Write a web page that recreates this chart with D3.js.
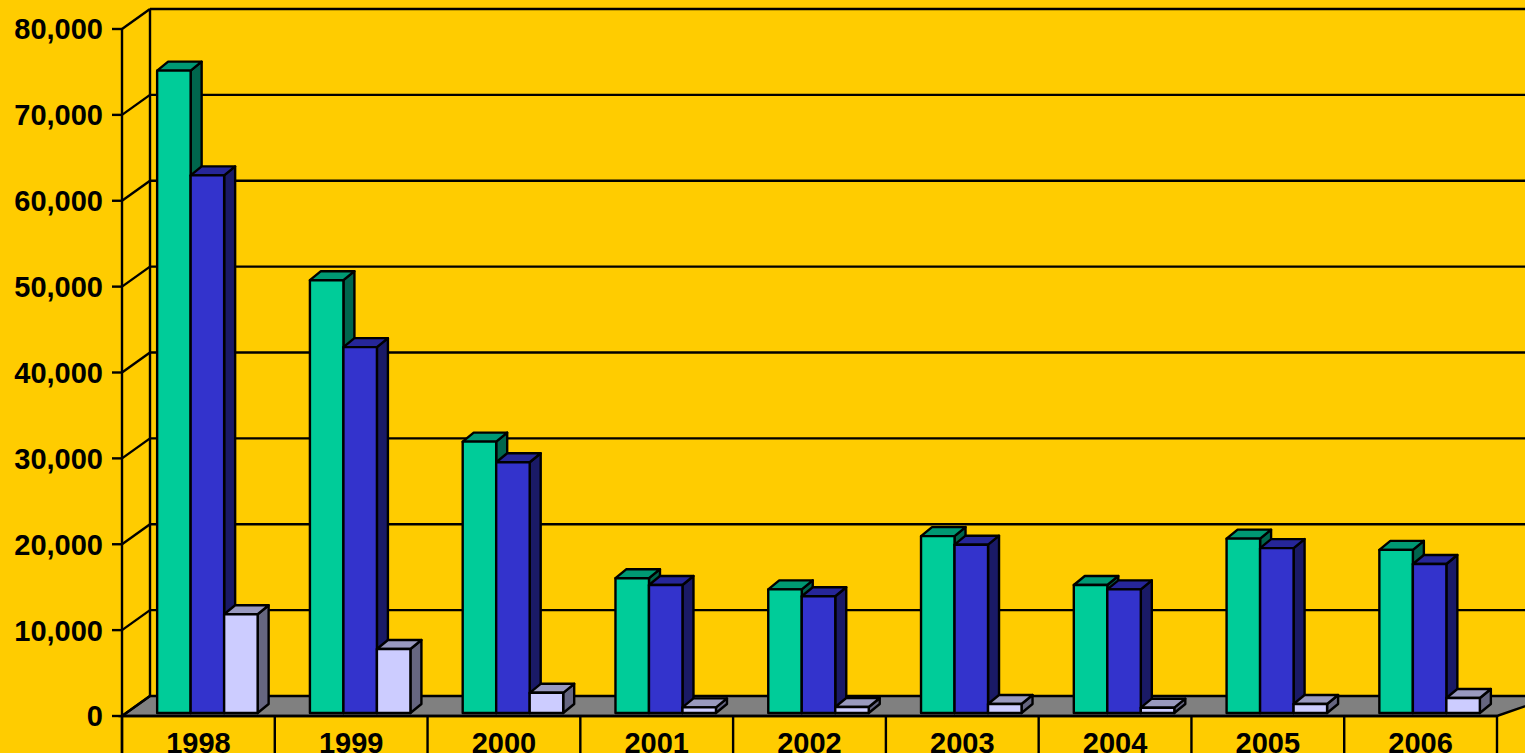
<!DOCTYPE html>
<html>
<head>
<meta charset="utf-8">
<script src="https://cdn.jsdelivr.net/npm/d3@7"></script>
<style>
  html, body { margin: 0; padding: 0; background: #FFCC00; overflow: hidden; }
  svg { display: block; }
  text { font-family: "Liberation Sans", Arial, sans-serif; font-weight: bold; fill: #000; }
</style>
</head>
<body>
<svg width="1525" height="753"></svg>
<script>
(function (d3) {
  'use strict';

  // data
  const years = ['1998', '1999', '2000', '2001', '2002', '2003', '2004', '2005', '2006'];
  const seriesNames = ['A', 'B', 'C'];
  const seriesA = [74800, 50400, 31600, 15700, 14400, 20600, 14900, 20300, 19000];
  const seriesB = [62600, 42600, 29200, 14900, 13600, 19600, 14400, 19200, 17350];
  const seriesC = [11500, 7450, 2350, 650, 700, 1050, 620, 1050, 1750];
  const yTicks = [0, 10000, 20000, 30000, 40000, 50000, 60000, 70000, 80000];

  const colors = [
    {front: '#00CC99', top: '#009973', side: '#00664D'},
    {front: '#3333CC', top: '#262699', side: '#1A1A66'},
    {front: '#CCCCFF', top: '#9999BF', side: '#666680'}
  ];

  const svg = d3.select('svg');
  const W = 1525;
  const sw = 2.4;

  const left = 122, right = 1497;
  const depth = {x: 28, y: -20};       // wall / floor depth
  const barShift = {x: 9, y: -3};      // bar front face offset
  const barDepth = {x: 11, y: -9};     // bar side depth
  const barW = 33.5;

  const y = d3.scaleLinear().domain([0, 80000]).range([716, 29]);
  const x0 = d3.scaleBand().domain(years).range([left, right]);
  const x1 = d3.scaleBand().domain(seriesNames).range([0, barW * 3]);

  const pts = a => a.map(p => p.join(',')).join(' ');

  // floor
  svg.append('polygon')
    .attr('points', pts([[left, y(0)], [left + depth.x, y(0) + depth.y],
                         [W + 30, y(0) + depth.y], [right, y(0)]]))
    .attr('fill', '#808080')
    .attr('stroke', '#000').attr('stroke-width', sw);

  // back wall gridlines
  const grid = svg.append('g');
  yTicks.filter(t => t > 0).forEach(t => {
    grid.append('line')
      .attr('x1', left + depth.x).attr('x2', W)
      .attr('y1', y(t) + depth.y).attr('y2', y(t) + depth.y)
      .attr('stroke', '#000').attr('stroke-width', sw);
  });
  // side wall lines
  yTicks.forEach(t => {
    grid.append('line')
      .attr('x1', left).attr('y1', y(t))
      .attr('x2', left + depth.x).attr('y2', y(t) + depth.y)
      .attr('stroke', '#000').attr('stroke-width', sw);
  });
  grid.append('line')
    .attr('x1', left + depth.x).attr('x2', left + depth.x)
    .attr('y1', y(80000) + depth.y).attr('y2', y(0) + depth.y)
    .attr('stroke', '#000').attr('stroke-width', sw);

  // bars
  const all = [seriesA, seriesB, seriesC];
  const bars = svg.append('g');
  years.forEach((yr, i) => {
    const bx = x0(yr) + (x0.bandwidth() - barW * 3) / 2 + barShift.x;
    seriesNames.forEach((s, j) => {
      const v = all[j][i];
      const xl = bx + x1(s), xr = xl + x1.bandwidth();
      const yt = y(v) + barShift.y, yb = y(0) + barShift.y;
      const c = colors[j];
      const g = bars.append('g').attr('stroke', '#000').attr('stroke-width', sw)
        .attr('stroke-linejoin', 'round');
      g.append('polygon')
        .attr('points', pts([[xr, yt], [xr + barDepth.x, yt + barDepth.y],
                             [xr + barDepth.x, yb + barDepth.y], [xr, yb]]))
        .attr('fill', c.side);
      g.append('polygon')
        .attr('points', pts([[xl, yt], [xl + barDepth.x, yt + barDepth.y],
                             [xr + barDepth.x, yt + barDepth.y], [xr, yt]]))
        .attr('fill', c.top);
      g.append('rect')
        .attr('x', xl).attr('y', yt)
        .attr('width', xr - xl).attr('height', yb - yt)
        .attr('fill', c.front);
    });
  });

  // value axis
  const ax = svg.append('g');
  ax.append('line')
    .attr('x1', left).attr('x2', left)
    .attr('y1', y(80000)).attr('y2', 760)
    .attr('stroke', '#000').attr('stroke-width', sw);
  yTicks.forEach(t => {
    ax.append('line')
      .attr('x1', left - 10).attr('x2', left)
      .attr('y1', y(t)).attr('y2', y(t))
      .attr('stroke', '#000').attr('stroke-width', sw);
    ax.append('text')
      .attr('x', 103).attr('y', y(t))
      .attr('dy', '0.36em')
      .attr('text-anchor', 'end')
      .style('font-size', '29px')
      .text(d3.format(',')(t));
  });

  // category axis
  const cx = svg.append('g');
  cx.append('line')
    .attr('x1', left).attr('x2', right)
    .attr('y1', y(0)).attr('y2', y(0))
    .attr('stroke', '#000').attr('stroke-width', sw);
  years.concat(['end']).forEach((yr, i) => {
    const xx = i < years.length ? x0(yr) : right;
    cx.append('line')
      .attr('x1', xx).attr('x2', xx)
      .attr('y1', y(0)).attr('y2', 760)
      .attr('stroke', '#000').attr('stroke-width', sw);
  });
  years.forEach(yr => {
    cx.append('text')
      .attr('x', x0(yr) + x0.bandwidth() / 2)
      .attr('y', 753)
      .attr('text-anchor', 'middle')
      .style('font-size', '29px')
      .text(yr);
  });

}(d3));
</script>
</body>
</html>
